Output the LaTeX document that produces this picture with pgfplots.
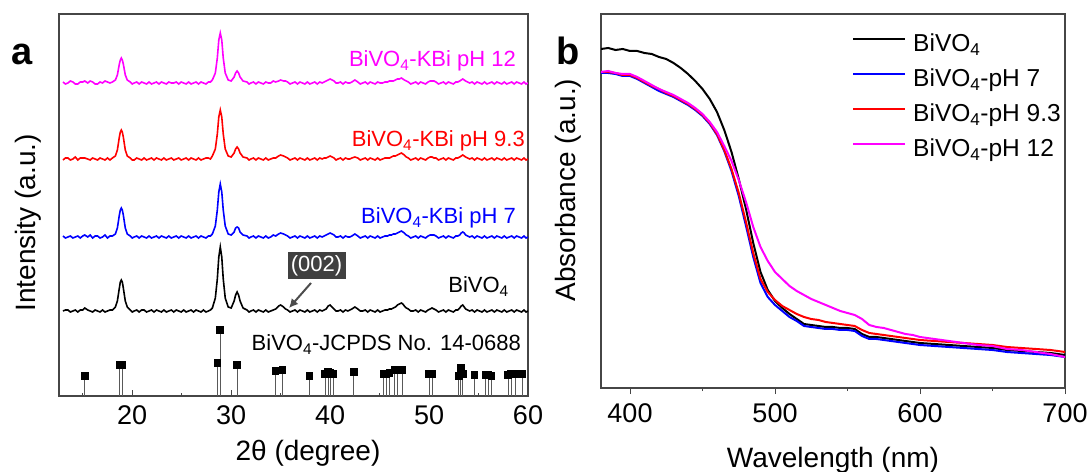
\documentclass[border=0pt]{standalone}
\usepackage{fontspec}
\setmainfont{Liberation Sans}
\usepackage{pgfplots}
\pgfplotsset{compat=1.18}
\usepackage{pgfplotstable}
\usetikzlibrary{arrows.meta}

\definecolor{magc}{RGB}{255,0,255}
\definecolor{axc}{RGB}{70,70,70}

\pgfplotstableread{
x k b r m
13.0 85 160 236 314
13.25 86 158 238 312
13.5 86 159 238 313
13.75 84 160 236 315
14.0 85 158 237 314
14.25 86 159 239 312
14.5 84 160 236 312
14.75 86 158 238 314
15.0 86 160 238 314
15.2 88 161 238 315
15.5 86 159 237 313
15.75 85 161 236 315
16.0 84 158 238 314
16.25 86 160 237 312
16.5 85 160 236 312
16.75 84 158 238 314
17.0 86 159 237 313
17.25 84 161 236 315
17.5 85 158 238 314
17.75 86 160 236 313
18.0 86 160 238 314
18.3 89 162 240 316
18.5 95 168 246 321
18.7 108 181 259 332
18.8 114 186 264 336
18.9 116 188 266 338
19.0 114 186 264 336
19.1 108 181 259 332
19.3 95 168 246 321
19.5 89 162 240 316
19.8 86 160 238 314
20.0 84 158 236 312
20.2 85 159 236 313
20.45 86 160 238 314
20.7 84 158 237 312
20.95 86 160 236 314
21.2 86 159 238 313
21.45 84 158 236 312
21.7 85 160 237 314
21.95 86 158 238 312
22.2 84 159 236 313
22.45 86 160 238 314
22.7 85 158 237 312
22.95 84 160 236 314
23.2 86 159 238 313
23.45 84 158 236 312
23.7 85 160 237 314
23.95 86 158 238 313
24.2 84 159 236 313
24.45 86 160 237 314
24.7 85 158 238 312
24.95 84 160 236 314
25.2 86 159 237 313
25.45 84 158 238 312
25.7 85 160 236 314
25.95 86 158 238 312
26.2 84 159 237 313
26.45 86 160 236 314
26.7 85 158 238 312
26.95 84 160 236 314
27.2 86 159 237 313
27.45 84 158 238 312
27.7 85 160 238 314
27.9 86 160 237 314
28.1 88 162 240 316
28.4 98 170 247 323
28.6 117 186 262 338
28.75 139 204 279 356
28.9 149 212 286 363
29.05 139 204 279 356
29.2 117 186 262 338
29.4 98 170 247 323
29.7 89 162 240 316
30.0 88 161 239 315
30.3 95 164 243 319
30.45 101 168 247 323
30.6 104 169 249 325
30.75 101 168 247 323
30.9 95 164 243 319
31.2 88 161 239 315
31.6 86 160 238 314
31.8 84 158 236 312
32.0 85 159 237 313
32.25 86 160 238 314
32.5 84 158 236 312
32.75 86 160 238 314
33.0 85 159 237 313
33.25 84 158 236 312
33.5 86 160 238 314
33.75 84 158 236 313
34.0 85 159 237 313
34.25 86 161 238 315
34.5 87 160 238 314
34.8 90 162 240 315
35.0 91 163 241 316
35.3 89 162 240 315
35.5 87 161 239 315
35.7 86 160 238 314
35.95 84 158 236 312
36.2 85 159 237 313
36.45 86 160 238 314
36.7 84 158 236 312
36.95 86 160 238 314
37.2 85 159 237 313
37.45 84 158 236 312
37.7 86 160 238 314
37.95 84 158 236 312
38.2 85 159 237 313
38.45 86 160 238 314
38.7 84 158 236 312
38.95 86 160 238 314
39.2 85 159 237 313
39.4 86 160 238 314
39.6 87 161 238 315
39.8 90 162 239 316
40.0 91 163 240 317
40.2 89 162 239 316
40.4 87 161 238 315
40.6 85 159 236 313
40.8 85 159 237 313
41.05 86 160 238 314
41.3 84 158 236 312
41.55 86 160 238 314
41.8 85 159 237 313
42.0 86 159 237 313
42.2 87 160 238 314
42.5 89 162 239 316
42.8 87 160 238 314
43.05 85 158 236 312
43.3 85 159 237 313
43.55 86 160 238 314
43.8 84 158 236 312
44.05 86 160 238 314
44.3 85 159 237 313
44.55 84 158 236 312
44.8 86 160 238 314
45.05 84 158 236 313
45.3 85 159 237 313
45.55 86 160 238 314
45.8 86 160 238 314
46.0 87 161 238 315
46.2 87 161 239 315
46.4 88 162 240 315
46.6 89 162 240 316
46.8 91 163 241 317
47.0 92 164 242 317
47.2 93 165 243 318
47.35 92 164 242 317
47.5 90 163 241 316
47.7 88 161 239 315
47.9 87 160 238 314
48.15 85 158 236 312
48.4 85 159 237 313
48.65 86 160 238 314
48.9 84 158 236 312
49.15 86 160 238 314
49.4 85 159 237 313
49.65 84 158 236 312
49.9 86 160 238 314
50.1 87 161 239 315
50.3 88 161 239 315
50.5 87 161 238 315
50.7 86 160 238 314
50.95 84 158 236 312
51.2 85 159 237 313
51.45 86 160 238 314
51.7 84 158 236 312
51.95 86 160 238 314
52.2 85 159 237 313
52.45 84 158 236 312
52.7 86 160 238 314
52.9 86 160 238 314
53.1 88 161 239 315
53.25 90 163 240 316
53.4 91 164 241 317
53.55 89 163 240 316
53.7 87 161 239 315
53.9 86 160 238 314
54.1 85 159 237 313
54.35 86 160 238 314
54.6 84 158 236 312
54.85 86 160 238 314
55.1 85 159 237 313
55.35 84 158 236 312
55.6 86 160 238 314
55.85 84 158 236 312
56.1 85 159 237 313
56.35 86 160 238 314
56.6 84 158 236 312
56.85 86 160 238 314
57.1 85 159 237 313
57.35 84 158 236 312
57.6 86 160 238 314
57.85 84 158 236 312
58.1 85 159 237 313
58.35 86 160 238 314
58.6 84 158 236 312
58.85 86 160 238 314
59.1 85 159 237 313
59.35 84 158 236 312
59.6 86 160 238 314
59.8 84 158 236 312
60.0 85 159 237 313
}\xrd

\pgfplotstableread{
x y
15.2 20
18.7 31
19.0 31
28.6 33
28.9 66
30.6 31
34.5 25
35.2 26
37.9 20
39.5 22
39.8 24
40.0 23
40.3 22
42.4 24
45.4 22
45.7 22
46.0 23
46.5 26
46.8 26
47.3 26
50.0 22
50.3 22
53.0 20
53.2 28
53.4 22
54.6 21
55.7 21
56.0 21
56.3 20
58.0 21
58.3 22
58.7 22
59.4 22
}\jcpds

\pgfplotstableread{
x k b r m
380 338 314 315 315
385 339 314 315 316
390 337 313 314 314
395 338 311 312 313
400 336 311 312 313
405 336 308 309 310
410 334 304 305 306
415 333 300 301 302
420 330 296 298 298
425 328 293 294 295
430 324 290 291 292
435 319 286 287 288
440 313 282 283 284
445 306 277 278 279
450 298 271 272 273
455 288 263 264 265
460 275 252 253 255
465 257 236 237 241
470 235 216 218 226
475 208 191 194 207
480 178 161 165 185
485 144 130 134 160
490 115 104 108 140
495 97 90 95 126
500 86 82 87 115
505 79 76 81 108
510 73 70 77 101
515 68 66 73 96
520 63 61 70 92
525 62 60 68 88
530 61 59 67 85
535 60 58 65 82
540 60 58 64 79
545 59 57 63 76
550 59 57 62 74
555 58 56 61 72
560 53 51 57 68
565 50 48 54 62
570 50 48 53 60
575 49 47 52 59
580 48 46 51 57
585 47 45 50 55
590 46 44 49 53
595 45 43 48 52
600 44 42 47 50
610 43 41 46 48
620 42 40 45 46
630 41 39 44 44
640 40 38 43 42
650 39 37 42 41
660 37 35 40 38
670 36 34 39 37
680 35 33 38 35
690 34 32 37 33
700 32 30 35 30
}\uvvis

\pgfplotsset{
  common/.style={
    anchor=south west, scale only axis,
    ytick=\empty, xtick pos=left,
    major tick length=6pt, minor tick length=3pt,
    tick style={line width=1pt, axc},
    axis line style={line width=1.2pt, axc},
    /pgf/number format/assume math mode=true,
    xticklabel style={font=\fontsize{27}{30}\selectfont, inner sep=0pt, anchor=north, yshift=-9pt},
  }
}

\begin{document}
\begin{tikzpicture}
\path[use as bounding box] (0pt,0pt) rectangle (1091pt,471pt);

% ---------- panel a ----------
\begin{axis}[common,
  at={(59pt,75pt)}, width=469pt, height=382pt,
  xmin=12.6, xmax=60, ymin=0, ymax=382,
  xtick={20,30,40,50,60}, minor xtick={15,25,35,45,55},
  tick align=inside]
\addplot[black, line width=1.6pt] table[x=x,y=k]{\xrd};
\addplot[blue, line width=1.6pt] table[x=x,y=b]{\xrd};
\addplot[red, line width=1.6pt] table[x=x,y=r]{\xrd};
\addplot[magc, line width=1.6pt] table[x=x,y=m]{\xrd};
\addplot[ycomb, draw=black!65, line width=1pt, mark=square*, mark size=3.3pt,
  mark options={fill=black, draw=black}] table[x=x,y=y]{\jcpds};
\end{axis}

\node[font=\fontsize{22}{26}\selectfont, text=magc, anchor=base east, inner sep=0pt] at (516pt,404pt) {BiVO\textsubscript{4}-KBi pH 12};
\node[font=\fontsize{22}{26}\selectfont, text=red, anchor=base east, inner sep=0pt] at (525pt,324pt) {BiVO\textsubscript{4}-KBi pH 9.3};
\node[font=\fontsize{22}{26}\selectfont, text=blue, anchor=base east, inner sep=0pt] at (516pt,247pt) {BiVO\textsubscript{4}-KBi pH 7};
\node[font=\fontsize{22}{26}\selectfont, text=black, anchor=base east, inner sep=0pt] at (509pt,178pt) {BiVO\textsubscript{4}};
\node[font=\fontsize{22}{26}\selectfont, text=black, anchor=base east, inner sep=0pt] at (521pt,120pt) {BiVO\textsubscript{4}-JCPDS No. 14-0688};
\node[fill=black!75, text=white, font=\fontsize{22}{24}\selectfont, inner sep=0pt, minimum width=58pt, minimum height=27pt] at (316.5pt,205pt) {(002)};
\draw[-{Latex[length=9pt,width=9pt]}, line width=2pt, black!70] (311pt,188pt) -- (289pt,163pt);

\node[font=\fontsize{28}{32}\selectfont, anchor=base] at (308pt,11pt) {2θ (degree)};
\node[font=\fontsize{28}{32}\selectfont, rotate=90] at (28pt,248pt) {Intensity (a.u.)};
\node[font=\bfseries\fontsize{38}{40}\selectfont, anchor=base west, inner sep=0pt] at (11pt,406pt) {a};

% ---------- panel b ----------
\begin{axis}[common,
  at={(601pt,83pt)}, width=464pt, height=374pt,
  xmin=380, xmax=700, ymin=-1, ymax=373,
  xtick={400,500,600,700}, minor xtick={450,550,650},
  tick align=outside,
  legend cell align=left,
  legend style={draw=none, fill=none, at={(0.541,0.949)}, anchor=north west,
    inner xsep=0pt, inner ysep=0pt, row sep=11pt, column sep=7pt,
    font=\fontsize{24.5}{28}\selectfont,
    nodes={inner sep=0pt, text height=18pt, text depth=6pt}},
  legend image code/.code={\draw[#1] (0pt,6pt) -- (52pt,6pt);}]
\addplot[black, line width=2pt] table[x=x,y=k]{\uvvis};
\addlegendentry{BiVO\textsubscript{4}}
\addplot[blue, line width=2pt] table[x=x,y=b]{\uvvis};
\addlegendentry{BiVO\textsubscript{4}-pH 7}
\addplot[red, line width=2pt] table[x=x,y=r]{\uvvis};
\addlegendentry{BiVO\textsubscript{4}-pH 9.3}
\addplot[magc, line width=2pt] table[x=x,y=m]{\uvvis};
\addlegendentry{BiVO\textsubscript{4}-pH 12}
\end{axis}

\node[font=\fontsize{28}{32}\selectfont, anchor=base] at (833pt,4pt) {Wavelength (nm)};
\node[font=\fontsize{28}{32}\selectfont, rotate=90] at (568pt,281pt) {Absorbance (a.u.)};
\node[font=\bfseries\fontsize{38}{40}\selectfont, anchor=base west, inner sep=0pt] at (556pt,406pt) {b};
\end{tikzpicture}
\end{document}
